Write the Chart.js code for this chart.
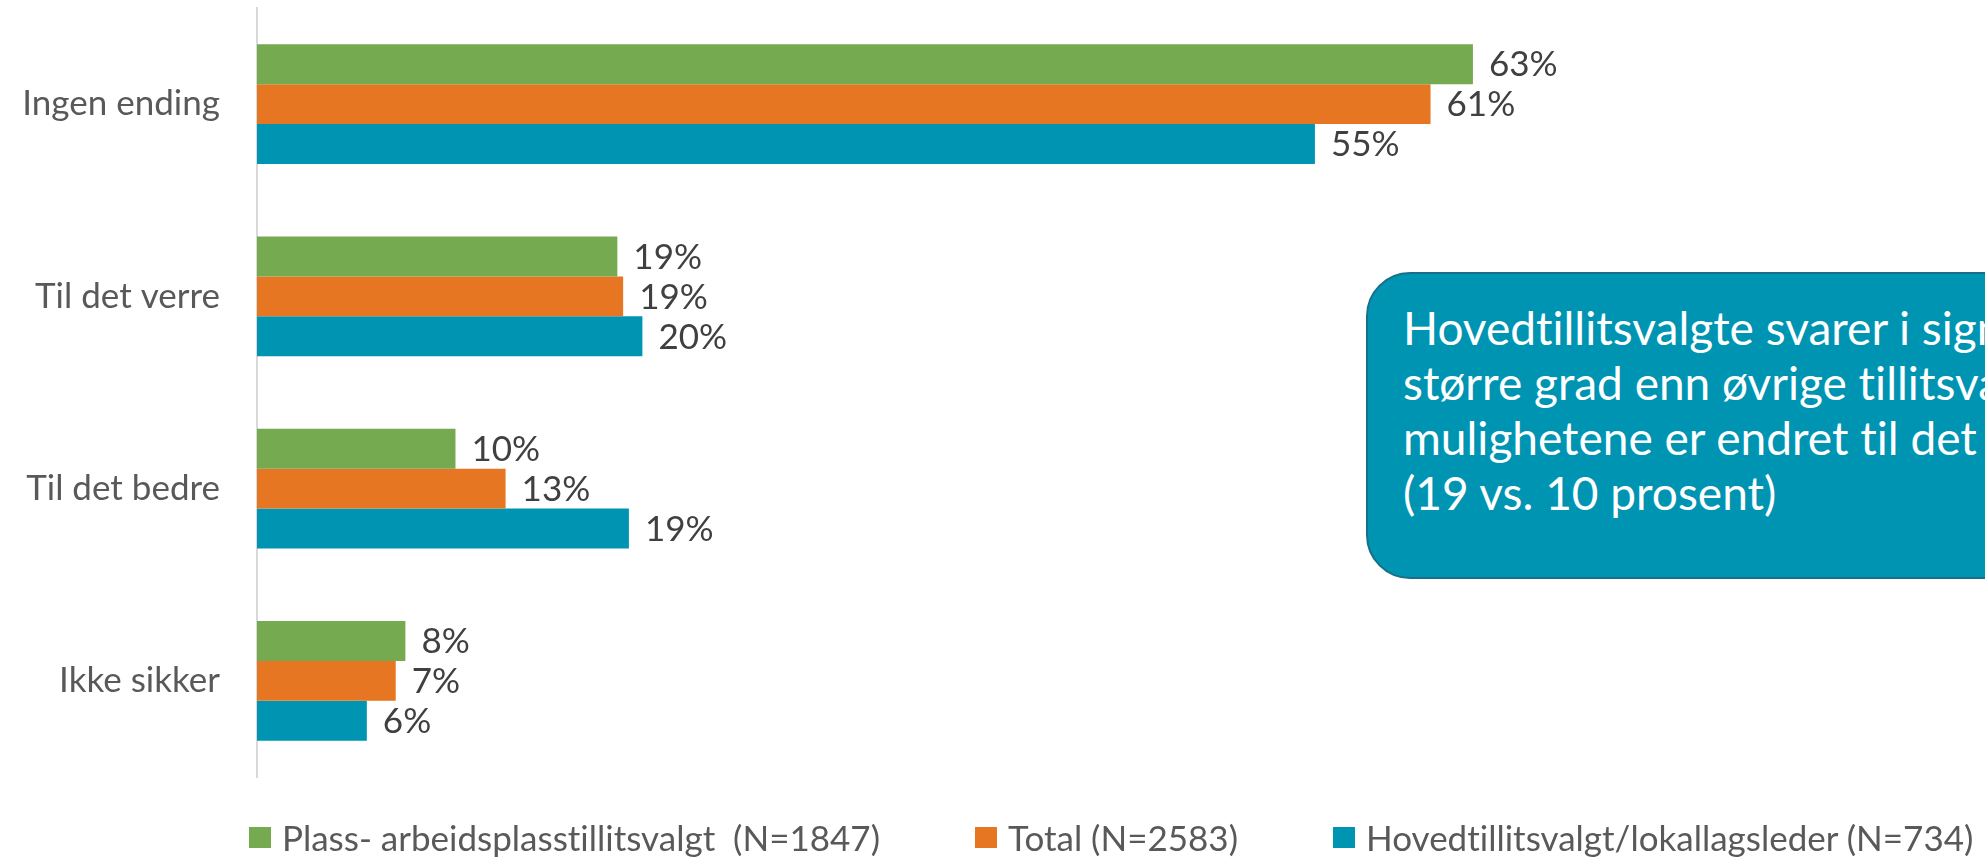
<!DOCTYPE html>
<html lang="no">
<head>
<meta charset="utf-8">
<title>Endring i muligheter</title>
<script src="https://cdn.jsdelivr.net/npm/chart.js@4/dist/chart.umd.min.js"></script>
<style>
    html, body { margin: 0; padding: 0; background: #fff; overflow: hidden; }
    body { width: 1985px; height: 857px; position: relative; font-family: Lato, "Open Sans", sans-serif; font-variant-ligatures: none; }
    #wrap { position: absolute; left: 0; top: 0; width: 2200px; height: 857px; }
    #callout {
        position: absolute; left: 1366px; top: 272px; width: 780px; height: 277px;
        background: #0094B3; border: 2px solid #17708A; border-radius: 44px;
        color: #fff; font-size: 46px; line-height: 55px; white-space: nowrap;
        padding: 26px 0 0 35px; box-sizing: content-box;
    }
    #legend {
        position: absolute; left: 249px; top: 816px; display: flex; align-items: center;
        font-size: 35px; color: #595959; white-space: pre; gap: 95px;
    }
    #legend .item { display: flex; align-items: center; }
    #legend .box { width: 22px; height: 21px; margin-right: 11px; }
</style>
</head>
<body>
<div id="wrap"><canvas id="chart" width="2200" height="857"></canvas></div>
<div id="callout">Hovedtillitsvalgte svarer i signifikant<br>større grad enn øvrige tillitsvalgte at<br>mulighetene er endret til det bedre<br>(19 vs. 10 prosent)</div>
<div id="legend"></div>
<script>
const categories = ['Ingen ending', 'Til det verre', 'Til det bedre', 'Ikke sikker'];
const seriesNames = [
    'Plass- arbeidsplasstillitsvalgt  (N=1847)',
    'Total (N=2583)',
    'Hovedtillitsvalgt/lokallagsleder (N=734)'
];
// percent (labels show them rounded)
const plassValues = [63.1, 18.7, 10.3, 7.7];
const totalValues = [60.9, 19.0, 12.9, 7.2];
const hovedValues = [54.9, 20.0, 19.3, 5.7];
const seriesColors = ['#75AA50', '#E67621', '#0094B3'];

const FONT = 'Lato, "Open Sans", sans-serif';

// value labels at the end of each bar
const barLabels = {
    id: 'barLabels',
    afterDatasetsDraw(chart) {
        const { ctx } = chart;
        ctx.save();
        ctx.font = `35px ${FONT}`;
        ctx.fillStyle = '#404040';
        ctx.textAlign = 'left';
        ctx.textBaseline = 'middle';
        chart.data.datasets.forEach((ds, i) => {
            const meta = chart.getDatasetMeta(i);
            meta.data.forEach((bar, j) => {
                ctx.fillText(`${Math.round(ds.data[j])}%`, bar.x + 16, bar.y + 1);
            });
        });
        ctx.restore();
    }
};

// simple html legend built from the datasets
const htmlLegend = {
    id: 'htmlLegend',
    afterUpdate(chart) {
        const el = document.getElementById('legend');
        el.innerHTML = '';
        chart.data.datasets.forEach(ds => {
            const item = document.createElement('div');
            item.className = 'item';
            const box = document.createElement('span');
            box.className = 'box';
            box.style.background = ds.backgroundColor;
            const txt = document.createElement('span');
            txt.textContent = ds.label;
            item.appendChild(box);
            item.appendChild(txt);
            el.appendChild(item);
        });
    }
};

const values = [plassValues, totalValues, hovedValues];

new Chart(document.getElementById('chart'), {
    type: 'bar',
    data: {
        labels: categories,
        datasets: seriesNames.map((name, i) => ({
            label: name,
            data: values[i],
            backgroundColor: seriesColors[i],
            borderWidth: 0,
            categoryPercentage: 0.624,
            barPercentage: 1
        }))
    },
    options: {
        indexAxis: 'y',
        responsive: false,
        devicePixelRatio: 1,
        animation: false,
        layout: { padding: { top: 8, bottom: 80, left: 0, right: 16 } },
        plugins: {
            legend: { display: false },
            tooltip: { enabled: false }
        },
        scales: {
            x: { display: false, min: 0, max: 100 },
            y: {
                afterFit(scale) {
                    scale.width = 257;
                    // tick padding should only push labels sideways
                    scale.paddingTop = 0;
                    scale.paddingBottom = 0;
                },
                grid: { display: false, drawTicks: false },
                border: { color: '#D9D9D9', width: 2 },
                ticks: { font: { family: FONT, size: 35 }, color: '#595959', padding: 37 }
            }
        }
    },
    plugins: [barLabels, htmlLegend]
});
</script>
</body>
</html>
